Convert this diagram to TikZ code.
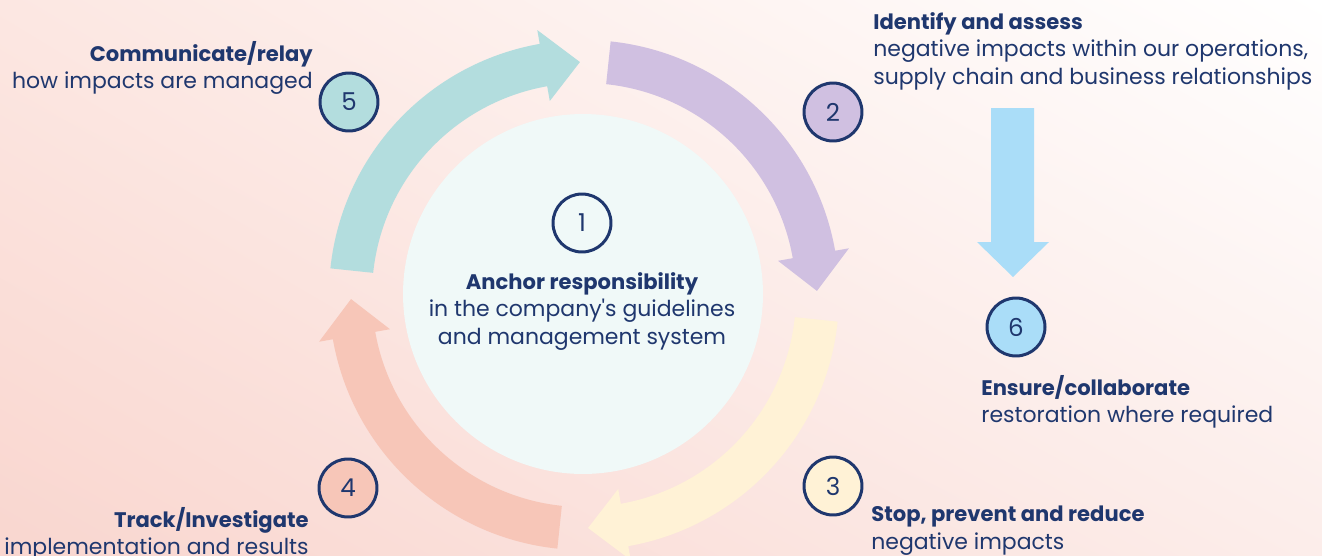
\documentclass[tikz,border=0pt]{standalone}
\usepackage{fontspec}
\setmainfont{Poppins}
\usetikzlibrary{calc,shadings}

\definecolor{navy}{RGB}{31,55,110}
\definecolor{teal5}{RGB}{179,221,222}
\definecolor{lilac2}{RGB}{208,192,225}
\definecolor{cream3}{RGB}{255,242,214}
\definecolor{salmon4}{RGB}{247,198,184}
\definecolor{sky6}{RGB}{170,221,248}
\definecolor{core}{RGB}{240,249,248}
\definecolor{bgtl}{RGB}{252,231,226}
\definecolor{bgbl}{RGB}{249,214,207}
\definecolor{bgbr}{RGB}{252,237,234}

% bold first line of each step text
\newcommand\head[1]{{\fontsize{12}{15.6}\selectfont\bfseries #1}}

\begin{document}
\begin{tikzpicture}[x=0.02cm,y=0.02cm,
    badge/.style={circle,draw=navy,line width=1.7pt,minimum size=1.16cm,inner sep=0pt,
      text=navy,font=\fontsize{14}{14}\selectfont},
    txt/.style={text=navy,inner sep=0pt,font=\fontsize{12.5}{15.6}\selectfont}]
  \useasboundingbox (0,0) rectangle (1322,-555);
  \shade[upper left=bgtl,upper right=white,lower left=bgbl,lower right=bgbr] (0,0) rectangle (1322,-555);

  % cycle of four curved arrows round the core
  \coordinate (ring) at (584,-295);
  \foreach[evaluate=\s as \b using \s-74,evaluate=\s as \t using \s-83] \s/\c in {84/lilac2,-6/cream3,-96/salmon4,174/teal5} {
    \fill[\c] ($(ring)+(\s:255)$) arc[start angle=\s,end angle=\b,radius=255]
      -- ($(ring)+(\b:269)$) -- ($(ring)+(\t:233)$) -- ($(ring)+(\b:197)$)
      -- ($(ring)+(\b:212)$) arc[start angle=\b,end angle=\s,radius=212] -- cycle;
  }
  \node[circle,fill=core,minimum size=7.2cm,inner sep=0pt] (core) at (583,-294) {};

  % straight arrow down to step 6
  \fill[sky6] (991,-108) -- (1034,-108) -- (1034,-242) -- (1049,-242) -- (1013,-277)
    -- (977,-242) -- (991,-242) -- cycle;

  \node[badge] (b1) at (582,-223) {1};
  \node[badge,fill=lilac2] (b2) at (833,-112) {2};
  \node[badge,fill=cream3] (b3) at (833,-486) {3};
  \node[badge,fill=salmon4] (b4) at (348,-488) {4};
  \node[badge,fill=teal5] (b5) at (349,-102) {5};
  \node[badge,fill=sky6] (b6) at (1016,-327) {6};

  \node[txt,anchor=north,align=center] (t1) at (582,-272) {\head{Anchor responsibility}\\in the company\textquotesingle s guidelines\\and management system};
  \node[txt,anchor=north west,align=left] (t2) at (873,-12) {\head{Identify and assess}\\negative impacts within our operations,\\supply chain and business relationships};
  \node[txt,anchor=north west,align=left] (t3) at (871,-506) {\head{Stop, prevent and reduce}\\negative impacts};
  \node[txt,anchor=north east,align=right] (t4) at (309,-507) {\head{Track/Investigate}\\implementation and results};
  \node[txt,anchor=north east,align=right] (t5) at (313,-41) {\head{Communicate/relay}\\how impacts are managed};
  \node[txt,anchor=north west,align=left] (t6) at (981,-375) {\head{Ensure/collaborate}\\restoration where required};
\end{tikzpicture}
\end{document}
